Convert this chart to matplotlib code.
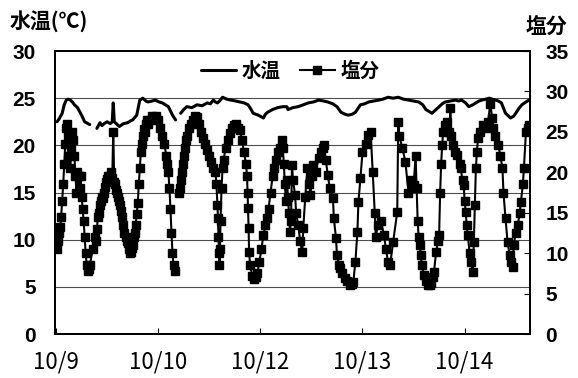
"""Water temperature and salinity time series, 10/9 - 10/14."""

import matplotlib

matplotlib.use("Agg")
import matplotlib.pyplot as plt
import numpy as np

JP = ["Noto Sans CJK JP", "DejaVu Sans"]
NUM = ["Liberation Sans", "DejaVu Sans"]

# x tick labels (days from the start of the record)
tick_days = [0, 1, 2, 3, 4]
tick_labels = ["10/9", "10/10", "10/12", "10/13", "10/14"]

# water temperature (left axis, deg C); nan = gap in record
temp_day = [
    0.01, 0.03, 0.05, 0.06, 0.08, 0.10, 0.12, 0.14, 0.16, 0.18, 0.21, 0.25,
    0.28, 0.33, 0.36,
    0.40, 0.42, 0.43, 0.45, 0.47, 0.50, 0.53, 0.55, 0.56, 0.57, 0.60, 0.62,
    0.66, 0.70, 0.73, 0.75, 0.79, 0.82, 0.85, 0.88, 0.90, 0.94, 0.97, 1.01,
    1.04, 1.07, 1.10, 1.14, 1.17, 1.19,
    1.22, 1.25, 1.28, 1.33, 1.38, 1.43, 1.48, 1.51, 1.54, 1.56, 1.58, 1.60,
    1.63, 1.67, 1.71, 1.76, 1.80, 1.84, 1.88, 1.91, 1.93, 1.98, 2.03, 2.05,
    2.07, 2.12, 2.17, 2.22, 2.26, 2.27, 2.32, 2.37, 2.42, 2.47, 2.52, 2.57,
    2.62, 2.66, 2.71, 2.75, 2.79, 2.83, 2.86, 2.90, 2.93, 2.98, 3.02, 3.06,
    3.11, 3.16, 3.20, 3.25, 3.30, 3.35, 3.40, 3.45, 3.50, 3.55, 3.59, 3.62,
    3.65, 3.68, 3.72, 3.75, 3.78, 3.81, 3.86, 3.91, 3.94, 3.97, 4.01, 4.04,
    4.08, 4.11, 4.14, 4.17, 4.21, 4.24, 4.27, 4.30, 4.33, 4.36, 4.40, 4.43,
    4.45, 4.48, 4.50, 4.53, 4.56, 4.60, 4.63,
]
temp_val = [
    22.5, 22.8, 23.2, 23.4, 24.3, 24.8, 24.9, 24.8, 24.6, 24.3, 24.0, 23.2,
    22.5, 22.2, np.nan,
    21.8, 22.2, 22.4, 22.1, 22.3, 22.5, 22.3, 22.5, 24.5, 22.5, 22.2, 22.0,
    22.3, 22.4, 22.6, 22.7, 23.2, 24.8, 25.0, 24.7, 24.6, 24.7, 24.8, 24.6,
    24.5, 24.3, 24.1, 23.2, 22.7, np.nan,
    23.4, 23.8, 24.1, 24.0, 24.3, 24.2, 24.5, 24.4, 24.8, 24.6, 24.5, 24.7,
    25.1, 24.9, 24.8, 24.7, 24.6, 24.5, 24.3, 23.8, 23.4, 23.2, 22.9, 23.3,
    23.5, 23.8, 24.0, 24.1, 24.1, 23.8, 24.0, 24.1, 24.3, 24.5, 24.6, 24.8,
    24.7, 24.6, 24.4, 24.1, 23.5, 23.3, 23.2, 23.3, 23.5, 24.3, 24.4, 24.6,
    24.7, 24.8, 24.9, 25.1, 25.0, 25.1, 24.9, 24.8, 24.7, 24.6, 24.3, 23.8,
    23.6, 23.4, 23.8, 24.1, 24.4, 24.6, 24.7, 24.8, 24.7, 24.8, 24.5, 24.1,
    24.3, 24.5, 24.7, 24.8, 24.9, 25.0, 24.9, 24.8, 24.7, 24.5, 23.4, 23.1,
    22.9, 23.1, 23.4, 23.9, 24.3, 24.6, 24.8,
]

# salinity (right axis); nan = gap in record
sal_day = [
    0.00, 0.01, 0.02, 0.03, 0.04, 0.05, 0.06, 0.07, 0.08, 0.09, 0.10, 0.11,
    0.12, 0.13, 0.14, 0.15, 0.16, 0.17, 0.18, 0.19, 0.20, 0.21, 0.22, 0.23,
    0.24, 0.25, 0.26, 0.27, 0.28, 0.29, 0.30, 0.31, 0.32, 0.33, 0.36, 0.38,
    0.39, 0.40, 0.41, 0.42, 0.43, 0.44, 0.45, 0.46, 0.47, 0.48, 0.49, 0.50,
    0.51, 0.52, 0.53, 0.54, 0.55, 0.56, 0.57, 0.58, 0.59, 0.60, 0.61, 0.62,
    0.63, 0.64, 0.65, 0.66, 0.67, 0.68, 0.69, 0.70, 0.71, 0.72, 0.73, 0.74,
    0.75, 0.76, 0.77, 0.78, 0.79, 0.80, 0.81, 0.82, 0.83, 0.84, 0.85, 0.86,
    0.87, 0.88, 0.89, 0.90, 0.92, 0.94, 0.96, 0.98, 1.00, 1.02, 1.04, 1.06,
    1.08, 1.09, 1.10, 1.11, 1.12, 1.13, 1.14, 1.15, 1.16, 1.18,
    1.20, 1.21, 1.22, 1.23, 1.24, 1.25, 1.26, 1.27, 1.28, 1.30, 1.32, 1.34,
    1.36, 1.38, 1.40, 1.42, 1.44, 1.46, 1.48, 1.50, 1.52, 1.54, 1.56, 1.57,
    1.58, 1.585, 1.59, 1.595, 1.60, 1.605, 1.61, 1.62, 1.63, 1.64, 1.66, 1.68,
    1.70, 1.72, 1.74, 1.76, 1.78, 1.80, 1.82, 1.84, 1.86, 1.87, 1.875, 1.88,
    1.885, 1.89, 1.90, 1.92, 1.94, 1.96, 1.97, 1.99, 2.01, 2.03, 2.05, 2.07,
    2.08, 2.10, 2.12, 2.13, 2.15, 2.17, 2.19, 2.21, 2.22, 2.23, 2.24, 2.25,
    2.26, 2.27, 2.28, 2.29, 2.30, 2.31, 2.32, 2.34, 2.35, 2.37, 2.39, 2.41,
    2.42, 2.44, 2.46, 2.48, 2.49, 2.51, 2.52, 2.54, 2.57, 2.59, 2.61, 2.62,
    2.64, 2.66, 2.68, 2.71, 2.72, 2.74, 2.75, 2.77, 2.78, 2.80, 2.83, 2.85,
    2.88, 2.90, 2.91, 2.93, 2.95, 2.96, 2.98, 3.00, 3.03, 3.05, 3.08, 3.10,
    3.12, 3.13, 3.15, 3.18, 3.21, 3.23, 3.25, 3.27, 3.30, 3.34, 3.35, 3.36,
    3.39, 3.42, 3.45, 3.47, 3.50, 3.52, 3.53, 3.54, 3.55, 3.56, 3.57, 3.58,
    3.60, 3.62, 3.64, 3.66, 3.67, 3.69, 3.70, 3.72, 3.74, 3.75, 3.76, 3.77,
    3.78, 3.79, 3.81, 3.83, 3.85, 3.86, 3.87, 3.89, 3.91, 3.93, 3.95, 3.96,
    3.98, 3.99, 4.00, 4.01, 4.02, 4.03, 4.05, 4.06, 4.08, 4.09, 4.10, 4.11,
    4.12, 4.13, 4.15, 4.18, 4.20, 4.23, 4.25, 4.27, 4.28, 4.30, 4.33, 4.35,
    4.37, 4.38, 4.40, 4.42, 4.44, 4.45, 4.47, 4.48, 4.50, 4.52, 4.54, 4.55,
    4.57, 4.58, 4.60, 4.62, 4.63,
]
sal_val = [
    10.8, 10.5, 11.5, 12.5, 13.2, 14.5, 16.5, 18.5, 21.0, 23.5, 25.5, 26.0,
    24.5, 22.0, 20.5, 23.0, 25.0, 24.0, 22.0, 19.5, 17.5, 20.0, 19.5, 18.0,
    19.5, 17.0, 15.5, 14.0, 12.0, 10.0, 8.5, 7.8, 8.0, 8.5, 10.5, 12.0,
    11.5, 13.0, 14.5, 15.0, 16.0, 16.5, 17.0, 16.8, 17.5, 18.2, 18.8, 19.2,
    19.5, 19.0, 19.5, 20.0, 19.3, 25.0, 18.8, 18.5, 17.8, 17.5, 17.0, 16.5,
    16.0, 15.2, 14.5, 13.5, 12.5, 12.0, 11.5, 11.2, 10.5, 10.0, 10.2, 10.6,
    11.0, 12.0, 12.5, 13.5, 14.8, 16.2, 18.5, 20.5, 22.5, 23.5, 24.5, 25.3,
    25.0, 26.0, 26.5, 26.0, 26.5, 27.0, 26.8, 27.0, 26.5, 25.5, 24.5, 23.5,
    22.0, 21.0, 20.0, 18.0, 15.5, 12.5, 10.0, 8.5, 7.8, np.nan,
    17.5, 18.0, 19.0, 20.0, 21.0, 22.0, 23.0, 24.0, 24.5, 25.5, 26.0, 26.5,
    27.0, 26.8, 26.0, 25.0, 24.2, 23.5, 22.8, 22.0, 21.3, 20.5, 20.0, 18.5,
    16.0, 14.3, 12.0, 10.0, 8.5, 10.5, 14.0, 18.0, 20.5, 21.5, 23.0, 24.0,
    24.8, 25.5, 25.8, 26.0, 25.5, 25.2, 24.0, 22.5, 21.0, 19.5, 17.5, 15.6,
    13.1, 10.1, 8.5, 7.2, 6.8, 7.0, 7.5, 8.9, 10.5, 12.2, 13.5, 14.3,
    15.5, 17.5, 19.5, 20.5, 21.5, 22.5, 23.0, 24.0, 23.0, 21.0, 18.5, 16.5,
    19.0, 17.0, 15.0, 12.6, 14.0, 20.9, 19.0, 17.2, 15.0, 13.5, 11.5, 10.1,
    13.1, 17.0, 20.5, 18.5, 17.2, 19.5, 20.9, 20.0, 21.8, 22.5, 23.0, 23.4,
    21.5, 19.7, 18.0, 16.8, 14.3, 11.9, 9.8, 8.5, 8.2, 7.5, 6.9, 6.5,
    6.1, 6.2, 6.4, 8.9, 12.6, 16.3, 19.3, 22.5, 23.5, 24.6, 25.0, 20.0,
    15.0, 12.0, 13.5, 14.0, 12.2, 10.5, 8.9, 8.5, 11.4, 15.1, 26.2, 24.5,
    23.0, 21.3, 17.5, 19.0, 18.4, 22.0, 18.0, 14.0, 12.0, 11.0, 9.8, 8.5,
    7.3, 6.5, 6.1, 6.0, 6.3, 7.0, 7.7, 10.1, 11.5, 12.2, 17.5, 21.0,
    23.4, 25.0, 25.8, 26.2, 25.0, 27.9, 24.5, 23.4, 22.5, 22.1, 21.0, 20.5,
    19.0, 18.4, 16.5, 15.1, 13.5, 12.2, 10.0, 8.9, 7.7, 11.4, 16.0, 20.5,
    22.5, 24.2, 25.0, 25.8, 25.5, 26.2, 28.5, 26.7, 25.5, 24.5, 23.4, 22.0,
    20.5, 17.5, 14.3, 11.4, 9.8, 8.9, 8.3, 11.0, 12.5, 13.5, 15.0, 16.3,
    18.5, 20.5, 25.0, 25.5, 25.8,
]


def main() -> None:
    fig = plt.figure(figsize=(5.78, 3.78), dpi=100)
    ax = fig.add_axes([0.0952, 0.1164, 0.8218, 0.7486])
    ax2 = ax.twinx()

    (h_temp,) = ax.plot(temp_day, temp_val, color="black", lw=2.2,
                        solid_capstyle="round", label="水温")
    (h_sal,) = ax2.plot(sal_day, sal_val, color="black", lw=1.5, marker="s",
                        markersize=5.5, label="塩分")

    ax.set_xlim(-0.01, 4.64)
    ax.set_ylim(0, 30)
    ax2.set_ylim(0, 35)
    ax.set_yticks(np.arange(0, 31, 5))
    ax2.set_yticks(np.arange(0, 36, 5))
    ax.set_xticks(tick_days, tick_labels)

    ax.grid(True, axis="y", color="0.3", lw=0.8)
    for spine in list(ax.spines.values()) + list(ax2.spines.values()):
        spine.set_linewidth(1.3)

    ax.tick_params(axis="y", length=0, pad=14)
    ax.tick_params(axis="x", direction="in", length=4, pad=12)
    ax2.tick_params(axis="y", direction="in", length=4, pad=11)
    for lab in ax.get_yticklabels() + ax2.get_yticklabels():
        lab.set_family(NUM)
        lab.set_fontsize(15)
        lab.set_fontweight("bold")
    for lab in ax.get_xticklabels():
        lab.set_family(JP)
        lab.set_fontsize(16)

    fig.text(0.017, 0.945, "水温(℃)", family=JP, fontsize=15,
             fontweight="bold", ha="left", va="center")
    fig.text(0.982, 0.93, "塩分", family=JP, fontsize=15,
             fontweight="bold", ha="right", va="center")

    ax2.legend(handles=[h_temp, h_sal], loc="center", ncol=2,
               bbox_to_anchor=(0.495, 0.929), frameon=False,
               prop={"family": JP, "size": 14, "weight": "bold"},
               handlelength=1.8, handletextpad=0.3, columnspacing=1.0)

    fig.savefig("out.png", dpi=100)
    plt.close(fig)


if __name__ == "__main__":
    main()
